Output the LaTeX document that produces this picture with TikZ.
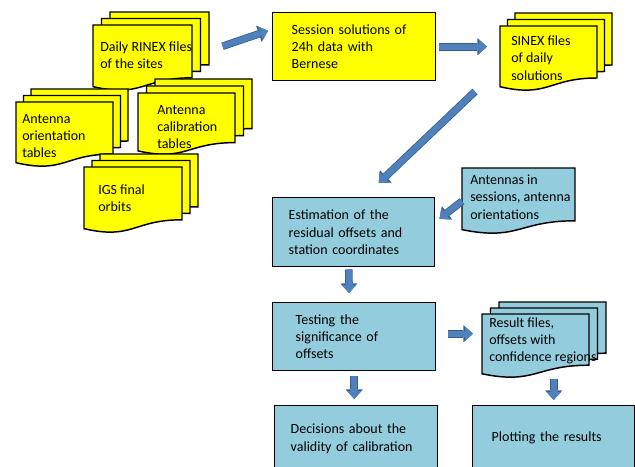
\documentclass[tikz,border=0pt]{standalone}
\usepackage{fontspec}
\setmainfont{Carlito}
\usetikzlibrary{arrows.meta}

\definecolor{pageyellow}{HTML}{FFFF00}
\definecolor{pageblue}{HTML}{93CDDD}
\definecolor{arrowfill}{HTML}{4F81BD}
\definecolor{arrowedge}{HTML}{385D8A}

% One page with a wavy lower edge: name, x, y, width, height, colour.
\newcommand\docpage[6]{%
    \draw[page-line, fill=#6] (#2,#3) -- ({#2+#4},#3) -- ({#2+#4},{#3+0.8*#5})
        .. controls ({#2+0.5*#4},{#3+0.8*#5}) and ({#2+0.5*#4},{#3+1.107*#5})
        .. (#2,{#3+0.934*#5}) -- cycle;
    \node[page-frame, minimum width=#4*0.75pt, minimum height=#5*0.75pt] (#1) at (#2,#3) {};%
}
% Three pages stacked, the front one is named <name>0.
\newcommand\docstack[8]{%
    \foreach \k [evaluate=\k as \sx using #2+#6*\k,
                 evaluate=\k as \sy using #3-#7*\k] in {2, 1, 0}
    {\docpage{#1\k}{\sx}{\sy}{#4}{#5}{#8}}%
}

\begin{document}
\begin{tikzpicture}[
        x=0.75pt,
        y=-0.75pt,
        page-line/.style={
            draw=black,
            line width=1.1pt,
        },
        page-frame/.style={
            inner sep=0pt,
            anchor=north west,
        },
        box/.style={
            draw=black,
            line width=1.1pt,
            anchor=north west,
            inner sep=0pt,
            align=left,
            font=\fontsize{10.5}{13}\selectfont,
        },
        page-text/.style={
            anchor=west,
            align=left,
            inner sep=0pt,
            font=\fontsize{10.5}{13}\selectfont,
        },
        flow/.style={
            arrowfill,
            line width=4.5pt,
            -{Triangle[length=6pt, width=11pt, line width=0pt]},
            preaction={
                draw=arrowedge,
                line width=5.7pt,
                -{Triangle[length=7.2pt, width=12.8pt, line width=0pt]},
            },
        },
    ]
    \useasboundingbox (0,0) rectangle (635,467);

    % Input files.
    \docstack{rinex}{93}{25}{99}{66}{8.5}{6.5}{pageyellow}
    \docstack{orient}{16}{102}{97}{65}{7.5}{6.5}{pageyellow}
    \docstack{calib}{138}{93}{97}{62}{8.5}{7}{pageyellow}
    \docstack{igs}{84}{167}{98}{66}{8}{6.5}{pageyellow}

    \node[page-text] (rinex) at (100,55.5) {Daily RINEX files\\of the sites};
    \node[page-text] (orient) at (22,136) {Antenna\\orientation\\tables};
    \node[page-text] (calib) at (157,127) {Antenna\\calibration\\tables};
    \node[page-text] (igs) at (98,198.5) {IGS final\\orbits};

    % Processing with Bernese.
    \node[box, fill=pageyellow, minimum width=163*0.75pt, minimum height=68*0.75pt,
        text width=93.75pt] (session) at (272,12) {Session solutions of\\24h data with\\Bernese};
    \docstack{sinex}{500}{26}{97}{65}{7.5}{6.5}{pageyellow}
    \node[page-text] (sinex) at (511,58) {SINEX files\\of daily\\solutions};

    % Estimation and testing.
    \docpage{antin0}{462}{168}{113}{66}{pageblue}
    \node[page-text] (antin) at (470,197) {Antennas in\\sessions, antenna\\orientations};
    \node[box, fill=pageblue, minimum width=162*0.75pt, minimum height=69*0.75pt,
        text width=97.5pt] (estim) at (272,197) {Estimation of the\\residual offsets and\\station coordinates};
    \node[box, fill=pageblue, minimum width=163*0.75pt, minimum height=68*0.75pt,
        text width=87.75pt] (testing) at (272,302) {Testing the\\significance of\\offsets};
    \docstack{result}{482}{314}{107}{64}{8.5}{6}{pageblue}
    \node[page-text] (result) at (489,341) {Result files,\\offsets with\\confidence regions};
    \node[box, fill=pageblue, minimum width=163*0.75pt, minimum height=66*0.75pt,
        text width=98.25pt] (decide) at (274,405) {Decisions about the\\validity of calibration};
    \node[box, fill=pageblue, minimum width=162*0.75pt, minimum height=64*0.75pt,
        text width=93pt] (plotting) at (472,405) {Plotting the results};

    % Block arrows.
    \draw[flow] ([shift={(30,-12)}]rinex0.east) -- ([shift={(-4,-16)}]session.west);
    \draw[flow, shorten <=2.25pt, shorten >=9.75pt] (session.east) -- (session.east -| sinex0.west);
    \draw[flow] ([shift={(-25,0)}]sinex0.south west) -- ([shift={(25,-14)}]estim.north);
    \draw[flow] (antin0.west) -- ([shift={(4,-13.5)}]estim.east);
    \draw[flow, shorten <=1.5pt, shorten >=6.75pt] ([shift={(-5,0)}]estim.south) -- ([shift={(-5,0)}]testing.north);
    \draw[flow, shorten <=9pt, shorten >=6.75pt] ([shift={(0,-3)}]testing.east) -- ([shift={(0,-3)}]testing.east -| result0.west);
    \draw[flow, shorten <=3.75pt, shorten >=4.5pt] (testing.south) -- (testing.south |- decide.north);
    \draw[flow, shorten >=3.75pt] (plotting.north |- result0.south) -- (plotting.north);
\end{tikzpicture}
\end{document}
